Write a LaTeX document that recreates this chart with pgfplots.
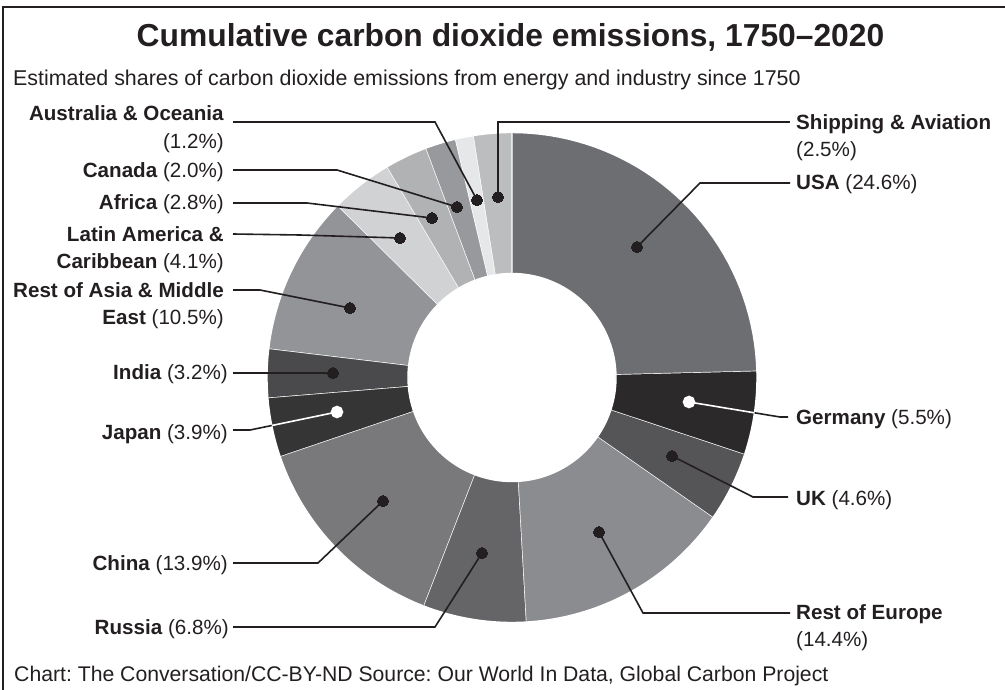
\documentclass[border=0pt]{standalone}
\usepackage{pgfplots}
\pgfplotsset{compat=1.18}
\usepackage{fontspec}
\setmainfont{Liberation Sans}
\frenchspacing
\definecolor{txt}{HTML}{231F20}
\definecolor{cUSA}{HTML}{6D6E71}
\definecolor{cGER}{HTML}{2B292A}
\definecolor{cUK}{HTML}{555558}
\definecolor{cEUR}{HTML}{8B8C8F}
\definecolor{cRUS}{HTML}{656567}
\definecolor{cCHN}{HTML}{79797C}
\definecolor{cJPN}{HTML}{363536}
\definecolor{cIND}{HTML}{4A4A4C}
\definecolor{cASI}{HTML}{939497}
\definecolor{cLAT}{HTML}{D1D2D4}
\definecolor{cAFR}{HTML}{B1B2B4}
\definecolor{cCAN}{HTML}{98999C}
\definecolor{cAUS}{HTML}{E6E7E8}
\definecolor{cSHP}{HTML}{BCBDBF}
% slice: start share (%), end share (%), colour
\newcommand{\slice}[3]{%
\addplot[fill=#3, draw=white, line width=1.4pt, domain=0:2, samples=81, variable=\t]
 ({512+((\t<1.05)?245:104)*sin(3.6*((\t<1.0001)?(#1+(#2-#1)*\t):(#2-(#2-#1)*max(0,(\t-1.1)/0.9))))},
  {377.5-((\t<1.05)?245:104)*cos(3.6*((\t<1.0001)?(#1+(#2-#1)*\t):(#2-(#2-#1)*max(0,(\t-1.1)/0.9))))});
}
\newcommand{\lead}[2][txt]{%
\addplot[txt, line width=1.6pt, mark=*, mark indices={1}, mark size=5.5pt,
  mark options={fill=#1, draw=#1, line width=0pt}] coordinates {#2};}
\newcommand{\labfont}{\fontsize{20.6}{26.5}\selectfont}
\newcommand{\labL}[3]{\node[anchor=base east, inner sep=0pt, text=txt, font=\labfont] at (axis cs:#1,#2) {#3};}
\newcommand{\labR}[3]{\node[anchor=base west, inner sep=0pt, text=txt, font=\labfont] at (axis cs:#1,#2) {#3};}
\begin{document}
\begin{tikzpicture}
\begin{axis}[scale only axis, width=1005pt, height=690pt,
  xmin=0, xmax=1005, ymin=0, ymax=690, y dir=reverse,
  hide axis, clip=false]
% donut: cumulative shares clockwise from 12 o'clock
\slice{0}{24.6}{cUSA}      % USA 24.6
\slice{24.6}{30.1}{cGER}   % Germany 5.5
\slice{30.1}{34.7}{cUK}    % UK 4.6
\slice{34.7}{49.1}{cEUR}   % Rest of Europe 14.4
\slice{49.1}{55.9}{cRUS}   % Russia 6.8
\slice{55.9}{69.8}{cCHN}   % China 13.9
\slice{69.8}{73.7}{cJPN}   % Japan 3.9
\slice{73.7}{76.9}{cIND}   % India 3.2
\slice{76.9}{87.4}{cASI}   % Rest of Asia & Middle East 10.5
\slice{87.4}{91.5}{cLAT}   % Latin America & Caribbean 4.1
\slice{91.5}{94.3}{cAFR}   % Africa 2.8
\slice{94.3}{96.3}{cCAN}   % Canada 2.0
\slice{96.3}{97.5}{cAUS}   % Australia & Oceania 1.2
\slice{97.5}{100}{cSHP}    % Shipping & Aviation 2.5
% leader lines
\lead{(498,197) (498,122) (790,122)}
\lead{(477,200) (435,122) (233,122)}
\lead{(457,207) (337,170) (233,170)}
\lead{(432,218) (307,203) (233,203)}
\lead{(400,238) (300,235) (233,234)}
\lead{(350,308) (260,290) (233,290)}
\lead{(333,373) (233,373)}
\addplot[txt, line width=1.6pt] coordinates {(271.8,425.5) (250,430) (233,430)};
\addplot[white, line width=1.6pt, mark=*, mark indices={1}, mark size=5.5pt, mark options={fill=white, draw=white}] coordinates {(337,412) (271.8,425.5)};
\lead{(383,501) (318,563) (233,563)}
\lead{(482,553) (435,627) (233,627)}
\lead{(637,247) (700,183) (790,183)}
\addplot[txt, line width=1.6pt] coordinates {(754.4,412.8) (780,417) (788,417)};
\addplot[white, line width=1.6pt, mark=*, mark indices={1}, mark size=5.5pt, mark options={fill=white, draw=white}] coordinates {(689,402) (754.4,412.8)};
\lead{(672,456) (753,497) (788,497)}
\lead{(599,532) (643,613) (790,613)}
% labels left
\labL{224}{121}{\textbf{Australia \& Oceania}}
\labL{224}{149}{(1.2\%)}
\labL{224}{177.3}{\textbf{Canada} (2.0\%)}
\labL{224}{210}{\textbf{Africa} (2.8\%)}
\labL{224}{241.7}{\textbf{Latin America \&}}
\labL{224}{268.3}{\textbf{Caribbean} (4.1\%)}
\labL{224}{297.7}{\textbf{Rest of Asia \& Middle}}
\labL{224}{324.3}{\textbf{East} (10.5\%)}
\labL{228}{379.3}{\textbf{India} (3.2\%)}
\labL{228}{439.3}{\textbf{Japan} (3.9\%)}
\labL{228}{570.7}{\textbf{China} (13.9\%)}
\labL{229}{634}{\textbf{Russia} (6.8\%)}
% labels right
\labR{796}{129.3}{\textbf{Shipping \& Aviation}}
\labR{796}{156.7}{(2.5\%)}
\labR{796}{190}{\textbf{USA} (24.6\%)}
\labR{796}{424}{\textbf{Germany} (5.5\%)}
\labR{796}{505}{\textbf{UK} (4.6\%)}
\labR{796}{619.3}{\textbf{Rest of Europe}}
\labR{796}{646}{(14.4\%)}
% titles
\node[anchor=base, inner sep=0pt, text=txt, font=\fontsize{31.8}{38}\selectfont\bfseries] at (axis cs:510.5,46.5) {Cumulative carbon dioxide emissions, 1750--2020};
\node[anchor=base west, inner sep=0pt, text=txt, font=\fontsize{21.4}{26}\selectfont] at (axis cs:13,86) {Estimated shares of carbon dioxide emissions from energy and industry since 1750};
\node[anchor=base west, inner sep=0pt, text=txt, font=\fontsize{21.2}{26}\selectfont] at (axis cs:14,681.5) {Chart: The Conversation/CC-BY-ND Source: Our World In Data, Global Carbon Project};
% frame
\draw[txt, line width=2pt] (axis cs:3,690) -- (axis cs:3,7) -- (axis cs:1005,7);
\end{axis}
\pgfresetboundingbox
\useasboundingbox (0,0) rectangle (1005pt,690pt);
\end{tikzpicture}
\end{document}
